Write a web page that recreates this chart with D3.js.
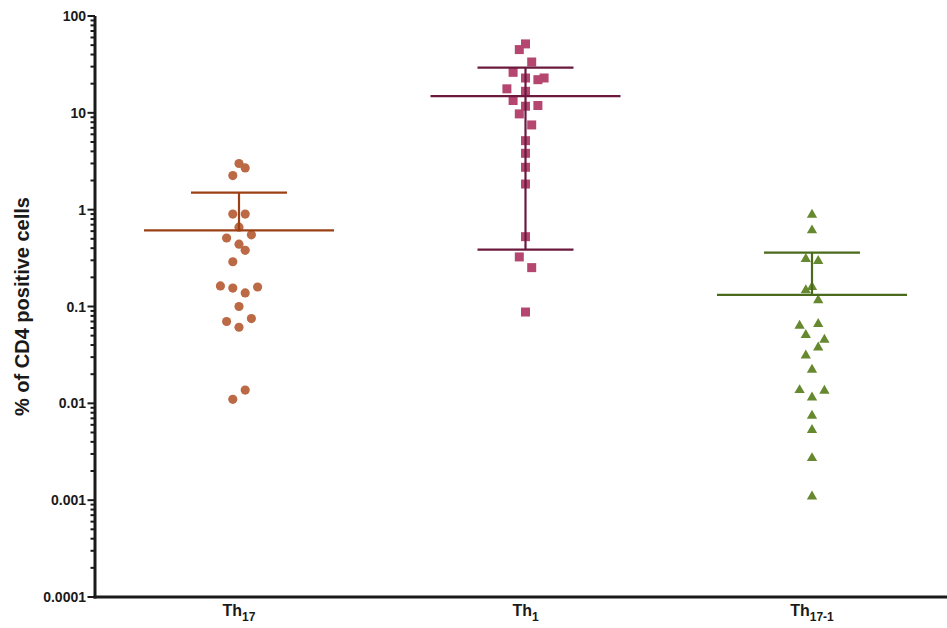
<!DOCTYPE html>
<html>
<head>
<meta charset="utf-8">
<script src="https://cdn.jsdelivr.net/npm/d3@7"></script>
<style>
  html, body { margin: 0; padding: 0; background: #fff; }
  svg { display: block; font-family: "Liberation Sans", Arial, Helvetica, sans-serif; }
</style>
</head>
<body>
<svg id="chart" width="947" height="628"></svg>
<script>
// Groups shown on the x axis (base name + subscript)
const groups = ["Th17", "Th1", "Th17-1"];
const groupBase = ["Th", "Th", "Th"];
const groupSub = ["17", "1", "17-1"];

// Individual measurements (% of CD4 positive cells) per group
const th17Values = [3.0, 2.7, 2.25, 0.9, 0.9, 0.66, 0.55, 0.51, 0.44, 0.38, 0.29,
  0.163, 0.159, 0.155, 0.138, 0.100, 0.075, 0.070, 0.061, 0.0137, 0.011];
const th1Values = [51.5, 45, 33.5, 26.2, 22.9, 22.9, 22.0, 17.7, 16.7, 13.4, 11.9,
  11.7, 9.75, 7.5, 5.16, 3.82, 2.74, 1.84, 0.526, 0.325, 0.252, 0.0877];
const th171Values = [0.888, 0.611, 0.310, 0.295, 0.159, 0.147, 0.116, 0.066, 0.0633,
  0.0508, 0.0454, 0.0378, 0.0312, 0.0222, 0.0137, 0.0135, 0.0115, 0.00745, 0.0053,
  0.00272, 0.00109];

// Scatter lane of each point (swarm column index, 0 = centre)
const th17Lanes = [0, 1, -1, -1, 1, 0, 2, -2, 0, 1, -1, -3, 3, -1, 1, 0, 2, -2, 0, 1, -1];
const th1Lanes = [0, -1, 1, -2, 0, 3, 2, -3, 0, -2, 2, 0, -1, 1, 0, 0, 0, 0, 0, -1, 1, 0];
const th171Lanes = [0, 0, -1, 1, 0, -1, 1, 1, -2, -1, 2, 1, -1, 0, -2, 2, 0, 0, 0, 0, 0];

// Group summary: mean with error bar ends (null = end not shown on log axis)
const groupMean = [0.61, 14.9, 0.132];
const groupUpper = [1.50, 29.3, 0.36];
const groupLower = [null, 0.386, null];

// Y tick labels
const yTickValues = [100, 10, 1, 0.1, 0.01, 0.001, 0.0001];
const yTickLabels = ["100", "10", "1", "0.1", "0.01", "0.001", "0.0001"];

const series = [
  { values: th17Values, lanes: th17Lanes, symbol: d3.symbolCircle, size: 66,
    fill: "#bb6a45", line: "#9c4016" },
  { values: th1Values, lanes: th1Lanes, symbol: d3.symbolSquare, size: 81,
    fill: "#b5466f", line: "#6b1a3e" },
  { values: th171Values, lanes: th171Lanes, symbol: d3.symbolTriangle, size: 46,
    fill: "#66892f", line: "#4a6a1c" }
];

const svg = d3.select("#chart");
const axisX = 95, axisY = 597, rightEdge = 947;

const y = d3.scaleLog().domain([1e-4, 100]).range([597, 16]);
const x = d3.scalePoint().domain(groups).range([239, 812]);
const lane = d3.scaleLinear().domain([-1, 1]).range([-6.2, 6.2]);

// Y axis: major ticks with labels, minor ticks 2..9 per decade
const minorTicks = [];
for (let e = -4; e < 2; e++) {
  for (let m = 2; m <= 9; m++) minorTicks.push(m * Math.pow(10, e));
}
const axisG = svg.append("g");
axisG.selectAll("line.minor").data(minorTicks).join("line")
  .attr("x1", axisX - 4.5).attr("x2", axisX)
  .attr("y1", d => y(d)).attr("y2", d => y(d))
  .attr("stroke", "#1a1a1a").attr("stroke-width", 2);
axisG.selectAll("line.major").data(yTickValues).join("line")
  .attr("x1", axisX - 7.5).attr("x2", axisX)
  .attr("y1", d => y(d)).attr("y2", d => y(d))
  .attr("stroke", "#1a1a1a").attr("stroke-width", 2);
axisG.selectAll("text.tick").data(yTickValues).join("text")
  .attr("x", axisX - 9).attr("y", d => y(d))
  .attr("text-anchor", "end").attr("dominant-baseline", "central")
  .attr("font-size", 14).attr("font-weight", "bold").attr("fill", "#1a1a1a")
  .text((d, i) => yTickLabels[i]);

// Axis lines
axisG.append("line")
  .attr("x1", axisX).attr("x2", axisX).attr("y1", y(100)).attr("y2", axisY + 1.5)
  .attr("stroke", "#1a1a1a").attr("stroke-width", 3);
axisG.append("line")
  .attr("x1", axisX - 1.5).attr("x2", rightEdge).attr("y1", axisY).attr("y2", axisY)
  .attr("stroke", "#1a1a1a").attr("stroke-width", 3);

// Y axis title
svg.append("text")
  .attr("transform", `translate(22, ${(y(100) + axisY) / 2}) rotate(-90)`)
  .attr("text-anchor", "middle").attr("dominant-baseline", "central")
  .attr("font-size", 20).attr("font-weight", "bold").attr("fill", "#1a1a1a")
  .text("% of CD4 positive cells");

// X category labels with subscripts
const xl = svg.append("g").selectAll("text").data(groups).join("text")
  .attr("x", d => x(d)).attr("y", 616)
  .attr("text-anchor", "middle")
  .attr("font-size", 16).attr("font-weight", "bold").attr("fill", "#1a1a1a");
xl.append("tspan").text((d, i) => groupBase[i]);
xl.append("tspan").attr("font-size", 12).attr("dy", 5).text((d, i) => groupSub[i]);

// Points
series.forEach((s, gi) => {
  const cx = x(groups[gi]);
  const sym = d3.symbol().type(s.symbol).size(s.size);
  svg.append("g").selectAll("path").data(s.values).join("path")
    .attr("d", sym)
    .attr("transform", (v, i) => `translate(${cx + lane(s.lanes[i])}, ${y(v)})`)
    .attr("fill", s.fill);
});

// Mean lines and error bars
series.forEach((s, gi) => {
  const cx = x(groups[gi]);
  const g = svg.append("g").attr("stroke", s.line).attr("stroke-width", 2.2);
  const lo = groupLower[gi];
  const hi = groupUpper[gi];
  const m = groupMean[gi];
  g.append("line").attr("x1", cx).attr("x2", cx)
    .attr("y1", y(hi)).attr("y2", lo == null ? y(m) : y(lo));
  g.append("line").attr("x1", cx - 48).attr("x2", cx + 48)
    .attr("y1", y(hi)).attr("y2", y(hi));
  if (lo != null) {
    g.append("line").attr("x1", cx - 48).attr("x2", cx + 48)
      .attr("y1", y(lo)).attr("y2", y(lo));
  }
  g.append("line").attr("x1", cx - 95).attr("x2", cx + 95)
    .attr("y1", y(m)).attr("y2", y(m));
});
</script>
</body>
</html>
